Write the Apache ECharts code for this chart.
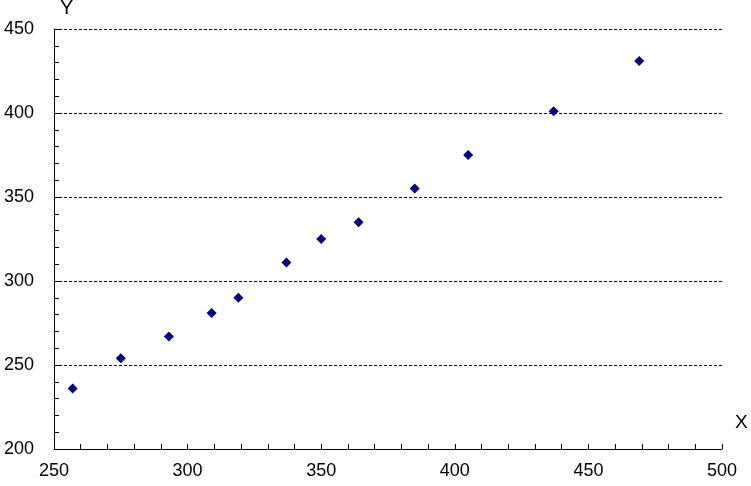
<!DOCTYPE html>
<html>
<head>
<meta charset="utf-8">
<script src="https://cdn.jsdelivr.net/npm/echarts@6/dist/echarts.min.js"></script>
<style>html,body{margin:0;padding:0;background:#fff;}#c{width:751px;height:486px;}</style>
</head>
<body>
<div id="c"></div>
<script>
var xValues = [257, 275, 293, 309, 319, 337, 350, 364, 385, 405, 437, 469];
var yValues = [236, 254, 267, 281, 290, 311, 325, 335, 355, 375, 401, 431];
var points = xValues.map(function (x, i) { return [x, yValues[i]]; });

var chart = echarts.init(document.getElementById('c'));
var font = 'Liberation Sans';
chart.setOption({
  animation: false,
  backgroundColor: '#ffffff',
  grid: { left: 54, right: 29, top: 29, bottom: 37, containLabel: false, outerBoundsMode: 'none' },
  xAxis: {
    type: 'value', min: 250, max: 500, interval: 50,
    name: 'X', nameLocation: 'end', nameGap: 13,
    nameTextStyle: { fontFamily: font, fontSize: 19, color: '#000', align: 'left', verticalAlign: 'bottom', padding: [0, 0, 17, 0] },
    axisLine: { show: true, lineStyle: { color: '#000', width: 1 } },
    axisTick: { show: true, inside: true, length: 5, lineStyle: { color: '#000' } },
    minorTick: { show: true, splitNumber: 5, length: 5, lineStyle: { color: '#000' } },
    axisLabel: { fontFamily: font, fontSize: 18, color: '#000', margin: 13 },
    splitLine: { show: false }
  },
  yAxis: {
    type: 'value', min: 200, max: 450, interval: 50,
    name: 'Y', nameLocation: 'end', nameGap: 11,
    nameTextStyle: { fontFamily: font, fontSize: 20, color: '#000', align: 'left', padding: [0, 0, 0, 6] },
    axisLine: { show: true, lineStyle: { color: '#000', width: 1 } },
    axisTick: { show: true, inside: true, length: 5, lineStyle: { color: '#000' } },
    minorTick: { show: true, splitNumber: 5, length: 5, lineStyle: { color: '#000' } },
    axisLabel: { fontFamily: font, fontSize: 18, color: '#000', margin: 20 },
    splitLine: { show: true, lineStyle: { color: '#000', type: [3, 2], width: 1 } }
  },
  series: [{
    type: 'scatter',
    data: points,
    symbol: 'diamond',
    symbolSize: 10,
    itemStyle: { color: '#000080', opacity: 1 }
  }]
});
</script>
</body>
</html>
